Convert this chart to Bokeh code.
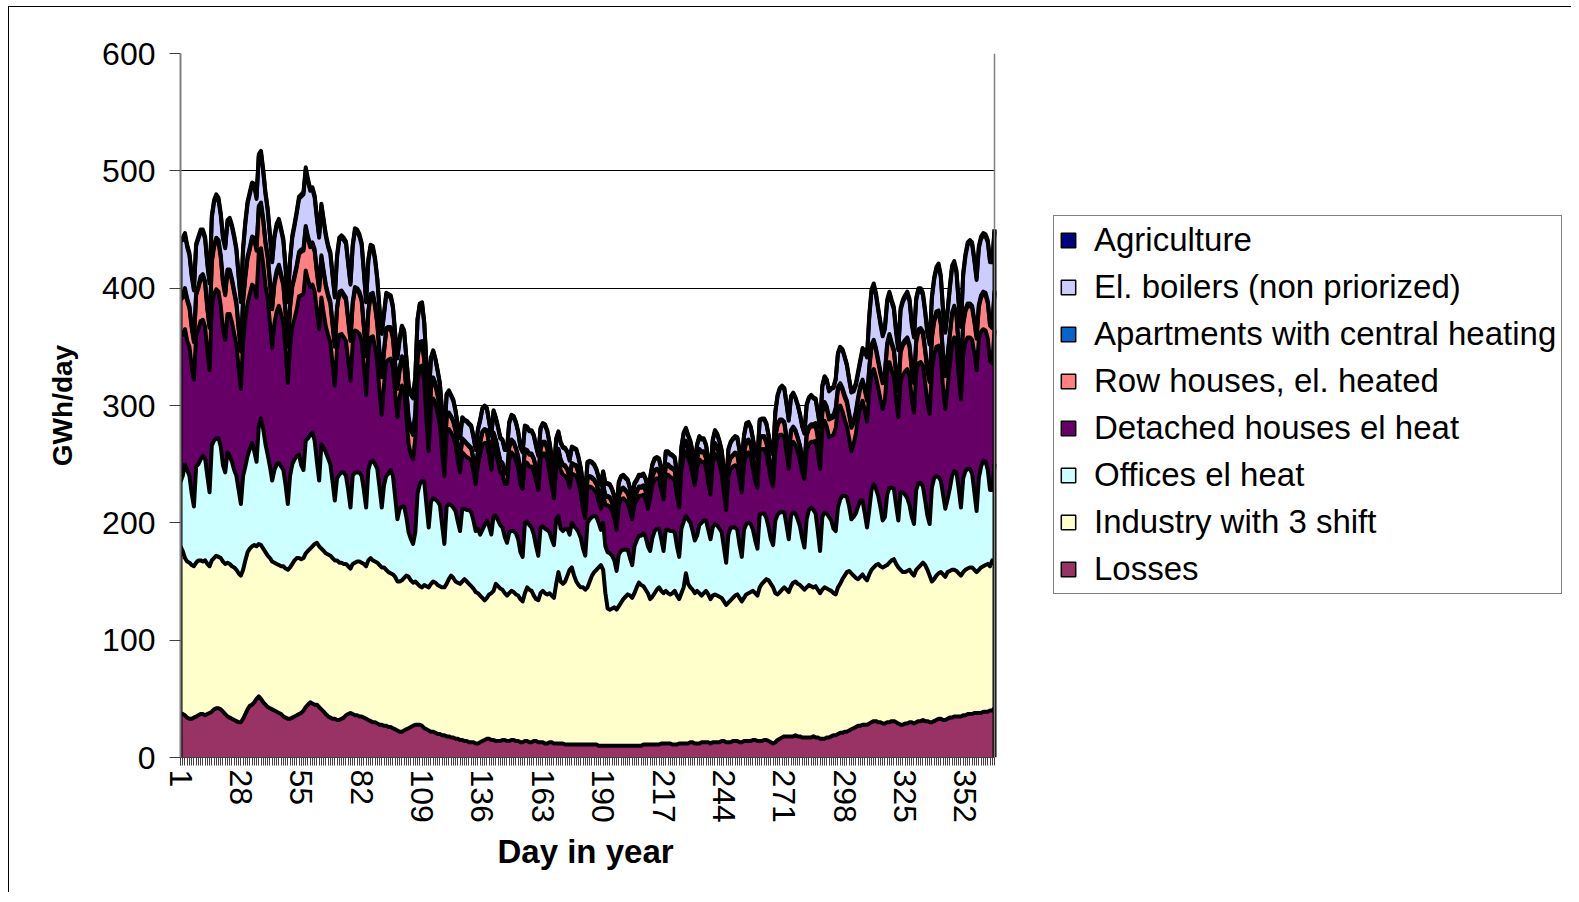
from bokeh.plotting import figure
from bokeh.models import (ColumnDataSource, Legend, LegendItem, FixedTicker, Range1d,
                          CDSView, IndexFilter, Span, Title)
from bokeh.transform import stack
from bokeh.embed import file_html
from bokeh.resources import INLINE

days = list(range(1, 366))

losses = [
    38, 37, 36, 34, 33, 33, 34,
    35, 36, 37, 37, 36, 37, 38,
    39, 41, 42, 42, 41, 39, 37,
    35, 34, 33, 32, 31, 30, 30,
    33, 37, 41, 44, 45, 47, 50,
    52, 50, 47, 45, 43, 42, 41,
    40, 39, 38, 37, 35, 34, 33,
    33, 34, 35, 36, 37, 38, 40,
    43, 45, 47, 46, 45, 45, 43,
    41, 39, 37, 35, 34, 33, 33,
    32, 32, 33, 34, 36, 37, 38,
    37, 36, 36, 35, 35, 34, 33,
    32, 31, 30, 30, 29, 28, 28,
    27, 27, 26, 26, 25, 24, 23,
    22, 22, 23, 24, 25, 26, 27,
    28, 28, 28, 27, 25, 24, 23,
    22, 22, 21, 20, 20, 19, 19,
    18, 18, 17, 17, 16, 16, 15,
    15, 14, 14, 13, 13, 13, 12,
    12, 13, 14, 15, 16, 16, 15,
    15, 14, 14, 14, 15, 15, 14,
    14, 15, 15, 14, 14, 13, 13,
    14, 14, 13, 13, 14, 14, 13,
    13, 13, 12, 12, 13, 13, 12,
    12, 12, 12, 12, 11, 11, 11,
    11, 11, 11, 11, 11, 11, 11,
    11, 11, 11, 11, 11, 10, 10,
    10, 10, 10, 10, 10, 10, 10,
    10, 10, 10, 10, 10, 10, 10,
    10, 10, 10, 10, 11, 11, 11,
    11, 11, 11, 11, 11, 12, 12,
    12, 12, 12, 11, 11, 11, 12,
    12, 12, 12, 12, 13, 13, 12,
    12, 12, 13, 13, 13, 13, 12,
    13, 13, 13, 13, 14, 14, 13,
    13, 13, 14, 14, 14, 13, 13,
    14, 14, 14, 14, 15, 15, 14,
    14, 14, 15, 15, 14, 13, 12,
    13, 15, 16, 17, 18, 18, 18,
    18, 18, 19, 18, 18, 17, 17,
    17, 17, 17, 18, 17, 17, 16,
    16, 16, 17, 17, 18, 19, 19,
    20, 21, 21, 22, 22, 23, 24,
    25, 26, 27, 27, 28, 28, 28,
    29, 30, 31, 31, 30, 30, 29,
    29, 30, 30, 31, 31, 30, 29,
    28, 28, 29, 29, 30, 30, 29,
    30, 31, 31, 32, 31, 31, 30,
    30, 31, 32, 33, 33, 32, 32,
    33, 34, 34, 35, 35, 35, 35,
    36, 36, 37, 37, 37, 38, 38,
    38, 38, 39, 39, 39, 40, 40,
    42,
]

industry = [
    142, 139, 134, 133, 133, 131, 129,
    131, 132, 131, 130, 132, 128, 125,
    129, 129, 130, 129, 129, 128, 128,
    131, 131, 130, 130, 129, 127, 125,
    127, 131, 134, 134, 135, 134, 130,
    130, 131, 131, 130, 129, 128, 126,
    126, 126, 126, 126, 128, 127, 127,
    129, 131, 133, 134, 133, 131, 130,
    131, 131, 131, 134, 137, 138, 137,
    137, 137, 137, 138, 138, 137, 135,
    136, 134, 133, 131, 129, 126, 123,
    128, 130, 131, 132, 131, 131, 130,
    136, 139, 138, 137, 137, 136, 134,
    135, 133, 132, 131, 131, 130, 127,
    128, 129, 130, 131, 129, 125, 122,
    122, 120, 118, 118, 122, 122, 122,
    126, 128, 128, 127, 126, 126, 126,
    130, 134, 138, 136, 134, 133, 133,
    135, 138, 136, 135, 133, 131, 129,
    128, 125, 122, 119, 120, 123, 125,
    127, 134, 132, 130, 128, 125, 124,
    126, 127, 126, 125, 124, 122, 120,
    126, 131, 130, 129, 124, 121, 121,
    127, 129, 128, 127, 127, 125, 124,
    136, 146, 138, 136, 139, 144, 149,
    151, 144, 139, 136, 134, 134, 132,
    134, 139, 144, 147, 149, 152, 154,
    150, 130, 117, 116, 117, 118, 116,
    119, 122, 125, 127, 129, 128, 126,
    130, 135, 139, 137, 135, 132, 129,
    124, 126, 129, 132, 134, 130, 128,
    130, 128, 127, 129, 131, 127, 123,
    128, 133, 145, 136, 132, 130, 128,
    130, 128, 125, 127, 129, 126, 123,
    125, 126, 125, 124, 122, 119, 117,
    119, 121, 122, 124, 125, 123, 120,
    122, 125, 126, 127, 127, 125, 124,
    131, 134, 135, 137, 137, 135, 133,
    127, 124, 125, 126, 127, 125, 123,
    128, 131, 131, 130, 129, 128, 126,
    128, 130, 129, 127, 129, 126, 124,
    127, 129, 127, 126, 124, 121, 120,
    125, 127, 131, 133, 136, 136, 133,
    130, 127, 125, 127, 128, 125, 123,
    127, 130, 131, 133, 135, 133, 133,
    134, 134, 136, 137, 138, 135, 133,
    132, 130, 129, 130, 130, 127, 126,
    130, 131, 133, 134, 133, 129, 125,
    120, 121, 123, 124, 125, 124, 122,
    125, 125, 126, 125, 124, 122, 120,
    122, 124, 124, 125, 125, 122, 120,
    122, 124, 124, 125, 126, 123, 128,
    123,
]

offices = [
    55, 64, 80, 78, 74, 61, 51,
    82, 82, 86, 90, 87, 75, 63,
    98, 100, 100, 101, 95, 82, 78,
    94, 92, 89, 83, 80, 71, 61,
    80, 80, 82, 85, 88, 80, 72,
    100, 108, 102, 92, 86, 78, 69,
    79, 85, 87, 85, 82, 71, 56,
    78, 85, 86, 87, 88, 80, 75,
    96, 96, 97, 97, 88, 69, 56,
    89, 88, 86, 82, 78, 65, 51,
    70, 75, 77, 78, 75, 65, 52,
    75, 77, 76, 76, 74, 63, 50,
    77, 82, 85, 83, 80, 66, 51,
    70, 80, 84, 88, 84, 68, 53,
    62, 63, 61, 50, 38, 35, 33,
    42, 77, 87, 91, 88, 69, 51,
    70, 71, 71, 71, 69, 53, 37,
    66, 64, 60, 60, 60, 52, 45,
    62, 60, 61, 63, 63, 58, 52,
    55, 52, 58, 64, 66, 58, 50,
    64, 58, 56, 54, 53, 48, 45,
    52, 51, 52, 52, 48, 40, 38,
    60, 56, 55, 54, 52, 45, 38,
    56, 55, 55, 55, 52, 48, 45,
    55, 48, 45, 45, 45, 40, 30,
    38, 42, 45, 45, 42, 33, 29,
    55, 53, 50, 48, 45, 38, 30,
    40, 40, 48, 48, 45, 40, 33,
    44, 44, 42, 40, 38, 32, 28,
    40, 40, 40, 42, 45, 45, 40,
    41, 50, 53, 52, 50, 44, 36,
    52, 54, 54, 53, 50, 42, 36,
    55, 56, 49, 55, 55, 50, 45,
    47, 58, 62, 62, 60, 55, 51,
    58, 60, 60, 58, 56, 46, 36,
    58, 62, 60, 58, 55, 45, 38,
    58, 60, 60, 58, 52, 45, 40,
    62, 60, 58, 52, 45, 38, 36,
    62, 68, 68, 66, 64, 55, 45,
    60, 60, 58, 55, 50, 42, 36,
    58, 64, 67, 66, 62, 50, 36,
    62, 64, 64, 62, 60, 55, 54,
    68, 72, 71, 68, 64, 55, 46,
    50, 55, 62, 65, 63, 55, 45,
    55, 68, 71, 65, 58, 50, 40,
    42, 60, 64, 62, 60, 50, 40,
    66, 68, 66, 62, 55, 48, 44,
    68, 72, 70, 65, 55, 46, 44,
    80, 86, 85, 82, 78, 68, 58,
    62, 70, 80, 84, 84, 72, 58,
    80, 84, 85, 84, 80, 66, 52,
    78, 86, 90, 88, 80, 65, 60,
    85,
]

detached = [
    125, 120, 115, 110, 110, 108, 108,
    112, 115, 118, 116, 112, 106, 104,
    118, 125, 127, 125, 120, 115, 113,
    118, 121, 119, 116, 112, 104, 98,
    115, 125, 130, 132, 135, 140, 140,
    148, 145, 140, 135, 133, 122, 113,
    125, 130, 134, 130, 125, 115, 103,
    110, 117, 120, 125, 135, 145, 150,
    145, 135, 126, 126, 127, 128, 129,
    125, 115, 107, 105, 104, 100, 98,
    110, 119, 118, 115, 115, 110, 108,
    112, 121, 120, 118, 115, 105, 96,
    100, 106, 106, 100, 90, 82, 79,
    85, 97, 97, 95, 92, 88, 87,
    95, 103, 100, 85, 75, 72, 72,
    80, 95, 100, 98, 85, 72, 65,
    80, 85, 82, 75, 68, 62, 58,
    62, 64, 62, 60, 56, 52, 50,
    48, 46, 45, 44, 44, 42, 40,
    55, 68, 72, 70, 66, 60, 55,
    60, 55, 50, 45, 45, 45, 50,
    62, 67, 65, 62, 60, 58, 58,
    52, 50, 50, 52, 54, 56, 56,
    58, 62, 64, 60, 52, 45, 40,
    45, 48, 50, 48, 45, 42, 40,
    42, 44, 45, 42, 38, 34, 32,
    30, 28, 25, 22, 20, 18, 18,
    25, 35, 40, 40, 38, 36, 35,
    42, 44, 44, 42, 40, 40, 39,
    36, 34, 34, 34, 33, 32, 32,
    45, 45, 44, 43, 42, 42, 44,
    47, 47, 46, 45, 44, 43, 42,
    50, 56, 55, 52, 50, 48, 47,
    58, 56, 52, 50, 45, 40, 38,
    55, 60, 58, 55, 50, 46, 45,
    50, 50, 52, 53, 54, 55, 55,
    55, 60, 60, 57, 52, 50, 52,
    55, 55, 55, 54, 52, 51, 50,
    60, 65, 66, 66, 64, 62, 60,
    60, 60, 58, 57, 56, 56, 58,
    58, 56, 56, 58, 62, 66, 70,
    75, 78, 74, 68, 72, 80, 88,
    85, 80, 72, 65, 60, 58, 58,
    62, 68, 75, 80, 85, 88, 90,
    100, 100, 98, 95, 92, 92, 95,
    100, 105, 107, 100, 95, 90, 88,
    95, 100, 105, 110, 110, 100, 95,
    100, 102, 103, 103, 100, 96, 94,
    100, 105, 110, 112, 105, 90, 85,
    95, 105, 112, 114, 108, 95, 92,
    105, 110, 112, 112, 114, 118, 120,
    118, 115, 112, 112, 112, 110, 108,
    114,
]

row_houses = [
    30, 32, 33, 34, 33, 33, 32,
    34, 35, 36, 37, 37, 36, 36,
    38, 40, 42, 42, 41, 40, 38,
    36, 36, 35, 35, 34, 33, 32,
    34, 36, 38, 38, 39, 40, 40,
    38, 37, 37, 36, 35, 34, 33,
    33, 33, 33, 32, 32, 31, 31,
    33, 34, 35, 36, 36, 37, 37,
    36, 35, 34, 34, 34, 33, 33,
    34, 34, 34, 33, 33, 33, 33,
    34, 35, 35, 35, 35, 34, 34,
    34, 35, 35, 34, 34, 33, 33,
    34, 35, 35, 34, 33, 32, 32,
    28, 27, 26, 25, 25, 24, 24,
    23, 23, 22, 22, 21, 21, 21,
    20, 20, 19, 19, 18, 18, 17,
    16, 16, 15, 15, 15, 14, 14,
    14, 13, 13, 13, 12, 12, 12,
    11, 11, 11, 10, 10, 10, 10,
    10, 10, 11, 11, 10, 10, 10,
    10, 9, 9, 9, 9, 9, 9,
    10, 10, 10, 10, 10, 10, 10,
    10, 10, 10, 10, 10, 10, 10,
    9, 9, 9, 9, 9, 9, 9,
    8, 8, 8, 8, 8, 8, 8,
    8, 8, 8, 8, 8, 8, 8,
    8, 8, 8, 8, 8, 8, 8,
    7, 7, 7, 7, 7, 7, 7,
    8, 8, 8, 8, 8, 8, 8,
    7, 7, 7, 7, 7, 7, 7,
    7, 7, 7, 7, 7, 7, 7,
    8, 8, 8, 8, 8, 8, 8,
    8, 8, 8, 8, 8, 8, 8,
    8, 8, 8, 8, 8, 8, 8,
    8, 8, 8, 8, 8, 8, 8,
    9, 9, 9, 10, 10, 10, 10,
    10, 10, 10, 10, 10, 10, 10,
    10, 10, 10, 10, 10, 10, 10,
    11, 11, 12, 12, 12, 12, 12,
    12, 12, 12, 12, 12, 12, 12,
    13, 13, 13, 13, 13, 13, 13,
    14, 14, 15, 15, 15, 15, 15,
    16, 17, 18, 19, 20, 20, 20,
    18, 17, 16, 16, 16, 17, 18,
    20, 22, 23, 23, 22, 22, 22,
    22, 22, 22, 22, 22, 22, 22,
    24, 25, 25, 25, 25, 25, 25,
    26, 27, 27, 27, 27, 27, 27,
    27, 28, 28, 28, 28, 28, 28,
    26, 25, 25, 25, 25, 25, 25,
    26, 26, 27, 27, 27, 27, 27,
    28, 29, 30, 30, 30, 30, 30,
    32,
]

apartments = [
    2, 2, 2, 2, 2, 2, 2,
    2, 2, 2, 2, 2, 2, 2,
    2, 2, 2, 2, 2, 2, 2,
    2, 2, 2, 2, 2, 2, 2,
    2, 2, 2, 2, 2, 2, 2,
    2, 2, 2, 2, 2, 2, 2,
    2, 2, 2, 2, 2, 2, 2,
    2, 2, 2, 2, 2, 2, 2,
    2, 2, 2, 2, 2, 2, 2,
    2, 2, 2, 2, 2, 2, 2,
    2, 2, 2, 2, 2, 2, 2,
    2, 2, 2, 2, 2, 2, 2,
    2, 2, 2, 2, 2, 2, 2,
    2, 2, 2, 2, 2, 2, 2,
    2, 2, 2, 2, 2, 2, 2,
    2, 2, 2, 2, 2, 2, 2,
    2, 2, 2, 2, 2, 2, 2,
    1, 1, 1, 1, 1, 1, 1,
    1, 1, 1, 1, 1, 1, 1,
    1, 1, 1, 1, 1, 1, 1,
    1, 1, 1, 1, 1, 1, 1,
    1, 1, 1, 1, 1, 1, 1,
    1, 1, 1, 1, 1, 1, 1,
    1, 1, 1, 1, 1, 1, 1,
    1, 1, 1, 1, 1, 1, 1,
    1, 1, 1, 1, 1, 1, 1,
    1, 1, 1, 1, 1, 1, 1,
    1, 1, 1, 1, 1, 1, 1,
    1, 1, 1, 1, 1, 1, 1,
    1, 1, 1, 1, 1, 1, 1,
    1, 1, 1, 1, 1, 1, 1,
    1, 1, 1, 1, 1, 1, 1,
    1, 1, 1, 1, 1, 1, 1,
    1, 1, 1, 1, 1, 1, 1,
    1, 1, 1, 1, 1, 1, 1,
    1, 1, 1, 1, 1, 1, 1,
    1, 1, 1, 1, 1, 1, 1,
    1, 1, 1, 1, 1, 1, 1,
    1, 1, 1, 1, 1, 1, 1,
    1, 1, 1, 1, 1, 1, 1,
    2, 2, 2, 2, 2, 2, 2,
    2, 2, 2, 2, 2, 2, 2,
    2, 2, 2, 2, 2, 2, 2,
    2, 2, 2, 2, 2, 2, 2,
    2, 2, 2, 2, 2, 2, 2,
    2, 2, 2, 2, 2, 2, 2,
    2, 2, 2, 2, 2, 2, 2,
    2, 2, 2, 2, 2, 2, 2,
    2, 2, 2, 2, 2, 2, 2,
    2, 2, 2, 2, 2, 2, 2,
    2, 2, 2, 2, 2, 2, 2,
    2, 2, 2, 2, 2, 2, 2,
    2,
]

boilers = [
    48, 47, 45, 44, 43, 42, 42,
    40, 40, 38, 36, 36, 36, 36,
    36, 36, 35, 34, 34, 36, 38,
    40, 42, 44, 45, 44, 42, 40,
    42, 44, 45, 45, 44, 44, 42,
    42, 42, 40, 40, 38, 38, 38,
    38, 38, 37, 37, 36, 36, 36,
    38, 40, 42, 44, 45, 45, 46,
    48, 47, 46, 45, 44, 44, 43,
    42, 42, 41, 40, 40, 40, 40,
    42, 44, 45, 46, 46, 46, 46,
    47, 48, 48, 47, 46, 45, 44,
    42, 40, 38, 38, 36, 35, 35,
    30, 28, 26, 25, 24, 24, 24,
    24, 25, 25, 26, 27, 28, 29,
    30, 31, 32, 32, 30, 28, 26,
    24, 22, 20, 19, 18, 18, 18,
    18, 18, 17, 17, 16, 16, 16,
    17, 17, 18, 18, 18, 18, 18,
    18, 18, 19, 19, 18, 18, 18,
    18, 18, 19, 19, 19, 19, 19,
    20, 20, 21, 21, 20, 20, 20,
    19, 19, 19, 19, 19, 18, 18,
    16, 15, 14, 14, 14, 14, 14,
    14, 14, 14, 14, 14, 14, 14,
    13, 13, 13, 12, 12, 12, 12,
    12, 12, 12, 12, 11, 11, 11,
    10, 10, 10, 10, 10, 10, 10,
    10, 10, 10, 10, 10, 10, 10,
    9, 9, 9, 9, 9, 9, 9,
    9, 9, 9, 9, 9, 9, 9,
    10, 10, 10, 10, 10, 10, 10,
    10, 10, 10, 10, 10, 10, 10,
    10, 10, 10, 10, 10, 10, 10,
    10, 10, 10, 10, 10, 10, 10,
    12, 12, 13, 13, 13, 14, 14,
    14, 14, 14, 14, 14, 14, 14,
    14, 14, 14, 15, 15, 15, 16,
    20, 24, 26, 28, 28, 28, 28,
    28, 28, 27, 27, 26, 26, 26,
    24, 24, 24, 22, 20, 20, 20,
    20, 21, 22, 22, 23, 23, 24,
    28, 30, 32, 32, 30, 28, 28,
    25, 22, 20, 20, 25, 30, 35,
    42, 45, 46, 45, 42, 40, 38,
    36, 35, 34, 34, 34, 33, 33,
    34, 35, 36, 37, 37, 37, 37,
    34, 33, 32, 31, 31, 30, 30,
    32, 34, 36, 38, 38, 36, 35,
    36, 38, 38, 36, 35, 35, 35,
    40, 45, 50, 52, 52, 50, 48,
    48, 48, 48, 48, 50, 52, 54,
    50,
]

agriculture = [
    2, 2, 2, 2, 2, 2, 2,
    2, 2, 2, 2, 2, 2, 2,
    2, 2, 2, 2, 2, 2, 2,
    2, 2, 2, 2, 2, 2, 2,
    2, 2, 2, 2, 2, 2, 2,
    2, 2, 2, 2, 2, 2, 2,
    2, 2, 2, 2, 2, 2, 2,
    2, 2, 2, 2, 2, 2, 2,
    2, 2, 2, 2, 2, 2, 2,
    2, 2, 2, 2, 2, 2, 2,
    2, 2, 2, 2, 2, 2, 2,
    2, 2, 2, 2, 2, 2, 2,
    2, 2, 2, 2, 2, 2, 2,
    2, 2, 2, 2, 2, 2, 2,
    1, 1, 1, 1, 1, 1, 1,
    1, 1, 1, 1, 1, 1, 1,
    1, 1, 1, 1, 1, 1, 1,
    1, 1, 1, 1, 1, 1, 1,
    1, 1, 1, 1, 1, 1, 1,
    1, 1, 1, 1, 1, 1, 1,
    1, 1, 1, 1, 1, 1, 1,
    1, 1, 1, 1, 1, 1, 1,
    1, 1, 1, 1, 1, 1, 1,
    1, 1, 1, 1, 1, 1, 1,
    1, 1, 1, 1, 1, 1, 1,
    1, 1, 1, 1, 1, 1, 1,
    1, 1, 1, 1, 1, 1, 1,
    1, 1, 1, 1, 1, 1, 1,
    1, 1, 1, 1, 1, 1, 1,
    1, 1, 1, 1, 1, 1, 1,
    1, 1, 1, 1, 1, 1, 1,
    1, 1, 1, 1, 1, 1, 1,
    1, 1, 1, 1, 1, 1, 1,
    1, 1, 1, 1, 1, 1, 1,
    1, 1, 1, 1, 1, 1, 1,
    1, 1, 1, 1, 1, 1, 1,
    1, 1, 1, 1, 1, 1, 1,
    1, 1, 1, 1, 1, 1, 1,
    1, 1, 1, 1, 1, 1, 1,
    1, 1, 1, 1, 1, 1, 1,
    1, 1, 1, 1, 1, 1, 1,
    1, 1, 1, 1, 1, 1, 1,
    1, 1, 1, 1, 1, 1, 1,
    2, 2, 2, 2, 2, 2, 2,
    2, 2, 2, 2, 2, 2, 2,
    2, 2, 2, 2, 2, 2, 2,
    2, 2, 2, 2, 2, 2, 2,
    2, 2, 2, 2, 2, 2, 2,
    2, 2, 2, 2, 2, 2, 2,
    2, 2, 2, 2, 2, 2, 2,
    2, 2, 2, 2, 2, 2, 2,
    2, 2, 2, 2, 2, 2, 2,
    2,
]

x_tick_days = [1, 28, 55, 82, 109, 136, 163, 190, 217, 244, 271, 298, 325, 352]
y_ticks = [0, 100, 200, 300, 400, 500, 600]

keys = ["losses", "industry", "offices", "detached", "row_houses",
        "apartments", "boilers", "agriculture"]
labels = ["Losses", "Industry with 3 shift", "Offices el heat",
          "Detached houses el heat", "Row houses, el. heated",
          "Apartments with central heating", "El. boilers (non priorized)",
          "Agriculture"]
colors = ["#993366", "#FFFFCC", "#CCFFFF", "#660066", "#FF8080",
          "#0066CC", "#CCCCFF", "#000080"]

source = ColumnDataSource(dict(
    day=days, losses=losses, industry=industry, offices=offices,
    detached=detached, row_houses=row_houses, apartments=apartments,
    boilers=boilers, agriculture=agriculture,
))

FONT = "Liberation Sans"

# layout: the plot frame is widened to the right so that the legend sits
# inside it; the data area itself spans PLOT_W pixels (days 1..365)
FIG_W, FIG_H = 1563, 886
BORDER_L, BORDER_T, BORDER_B = 171, 46, 136
PLOT_W = 814
FIRST_DAY, LAST_DAY = days[0], days[-1]
frame_w = FIG_W - BORDER_L
x_end = FIRST_DAY + frame_w * (LAST_DAY - FIRST_DAY) / PLOT_W

p = figure(width=FIG_W, height=FIG_H, output_backend="svg", toolbar_location=None,
           x_range=Range1d(FIRST_DAY, x_end), y_range=Range1d(0, 600),
           min_border_left=BORDER_L, min_border_right=0,
           min_border_top=BORDER_T, min_border_bottom=BORDER_B,
           background_fill_color="white", border_fill_color="white",
           outline_line_color=None)

# horizontal grid lines restricted to the data area
grid = p.ygrid[0]
if "cross_bounds" in grid.properties():
    grid.cross_bounds = (FIRST_DAY, LAST_DAY)
    grid.grid_line_color = "black"
    grid.grid_line_width = 1
else:
    grid.visible = False
    gsrc = ColumnDataSource(dict(y=y_ticks[1:]))
    p.segment(x0=FIRST_DAY, x1=LAST_DAY, y0="y", y1="y", source=gsrc,
              line_color="black", line_width=1, level="underlay")
p.xgrid.visible = False

p.varea_stack(keys, x="day", color=colors, source=source)
p.vline_stack(keys, x="day", color="black", line_width=4,
              line_join="round", source=source)
# vertical outline at the first and last day of the stacked areas
p.segment(x0="day", y0=0, x1="day", y1=stack(*keys), source=source,
          view=CDSView(filter=IndexFilter([0, len(days) - 1])),
          line_color="black", line_width=4)

# right edge of the plot area
p.add_layout(Span(location=LAST_DAY, dimension="height",
                  line_color="#808080", line_width=1.5))

# legend swatches: proxy renderers drawn far outside the visible area
OFF = -1000
items = []
for lab, col in reversed(list(zip(labels, colors))):
    r = p.quad(left="day", right="day", top=OFF, bottom=OFF, source=source,
               fill_color=col, line_color="black", line_width=1.5)
    items.append(LegendItem(label=lab, renderers=[r]))

legend = Legend(items=items, location=(873, 163), orientation="vertical",
                label_text_font=FONT, label_text_font_size="33px",
                label_text_color="black",
                glyph_width=18, glyph_height=18, label_standoff=17,
                label_height=30, spacing=9, padding=5, margin=0,
                border_line_color="black", border_line_width=1,
                background_fill_color="white", background_fill_alpha=1.0)
p.add_layout(legend)

# axes
p.xaxis.bounds = (FIRST_DAY, LAST_DAY)
p.xaxis.ticker = FixedTicker(ticks=x_tick_days, minor_ticks=days)
p.xaxis.major_label_orientation = "vertical"
p.xaxis.major_label_text_font = FONT
p.xaxis.major_label_text_font_size = "32px"
p.xaxis.major_label_text_color = "black"
p.xaxis.major_label_standoff = 4
p.xaxis.major_tick_out = 8
p.xaxis.major_tick_in = 0
p.xaxis.minor_tick_out = 8
p.xaxis.minor_tick_in = 0
p.xaxis.major_tick_line_color = "#404040"
p.xaxis.minor_tick_line_color = "#404040"
p.xaxis.axis_line_color = "#404040"

# x-axis title centred under the data area (not under the widened frame)
p.add_layout(Title(text="Day in year", align="left", offset=317,
                   text_font=FONT, text_font_style="bold",
                   text_font_size="33px", text_color="black",
                   standoff=11), "below")

p.yaxis.ticker = FixedTicker(ticks=y_ticks, minor_ticks=[])
p.yaxis.axis_label = "GWh/day"
p.yaxis.axis_label_text_font = FONT
p.yaxis.axis_label_text_font_style = "bold"
p.yaxis.axis_label_text_font_size = "28px"
p.yaxis.axis_label_text_color = "black"
p.yaxis.axis_label_standoff = 21
p.yaxis.major_label_text_font = FONT
p.yaxis.major_label_text_font_size = "32px"
p.yaxis.major_label_text_color = "black"
p.yaxis.major_label_standoff = 14
p.yaxis.major_tick_out = 11
p.yaxis.major_tick_in = 0
p.yaxis.major_tick_line_color = "#404040"
p.yaxis.axis_line_color = "#808080"
p.yaxis.axis_line_width = 2

p.styles = {"margin-left": "8px", "margin-top": "6px",
            "border-top": "1px solid black", "border-left": "1px solid black"}

open("out.html", "w").write(file_html(p, INLINE))
